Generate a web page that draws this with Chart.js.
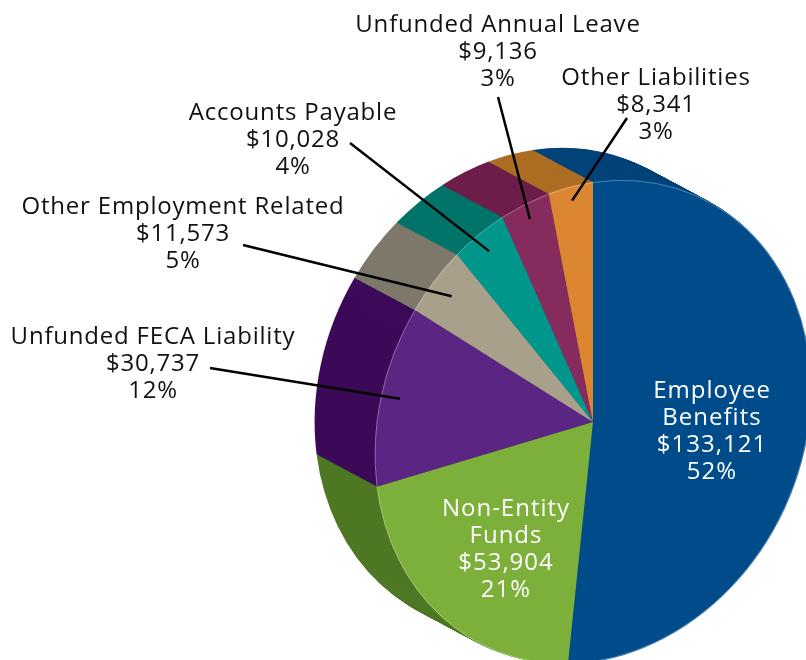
<!DOCTYPE html>
<html>
<head>
<meta charset="utf-8">
<script src="https://cdn.jsdelivr.net/npm/chart.js@4"></script>
<style>
  html, body { margin: 0; padding: 0; background: #fff; }
  #wrap { width: 806px; height: 660px; position: relative; }
</style>
</head>
<body>
<div id="wrap"><canvas id="liabilities"></canvas></div>
<script>
// data (thousands of dollars)
var categories = ['Employee Benefits', 'Non-Entity Funds', 'Unfunded FECA Liability',
    'Other Employment Related', 'Accounts Payable', 'Unfunded Annual Leave', 'Other Liabilities'];
var amounts = [133121, 53904, 30737, 11573, 10028, 9136, 8341];
var percents = [52, 21, 12, 5, 4, 3, 3];

var faceColors = ['#004c8a', '#7cb03a', '#5b2683', '#a8a08a', '#00968b', '#862b5e', '#db8731'];
var sideColors = ['#004479', '#4e7823', '#3c0a58', '#7e786a', '#007469', '#6d1e4a', '#ad6e24'];

// label layout: text lines, anchor (centre x, first baseline), leader start and depth into slice
var labelLines = [['Employee', 'Benefits'], ['Non-Entity', 'Funds'], ['Unfunded FECA Liability'],
    ['Other Employment Related'], ['Accounts Payable'], ['Unfunded Annual Leave'], ['Other Liabilities']];
var labelPos = [[712, 398], [506, 516], [153, 344], [183, 214], [293, 120], [498, 32], [656, 85]];
var leaderFrom = [null, null, [210, 368], [243, 245], [350, 143], [498, 97], [627, 118]];
var leaderDepth = [0, 0, 0.91, 0.89, 0.91, 0.93, 0.94];

// face of the pie is a tilted ellipse: x' = FA*x, y' = FB*x + y
var FA = 0.91, FB = -0.134;
var DX = -60, DY = -32; // depth of the extrusion
var FONT = '"Open Sans", sans-serif';

function money(v) {
    return '$' + v.toLocaleString('en-US');
}

function faceTransform(ctx, cx, cy) {
    ctx.translate(cx, cy);
    ctx.transform(FA, FB, 0, 1, 0, 0);
    ctx.translate(-cx, -cy);
}

var pie3d = {
    id: 'pie3d',
    beforeDatasetsDraw: function (chart) {
        var ctx = chart.ctx;
        var arcs = chart.getDatasetMeta(0).data;
        var cx = arcs[0].x, cy = arcs[0].y;
        var steps = 70;
        for (var i = steps; i >= 1; i--) {
            var t = i / steps;
            ctx.save();
            ctx.translate(DX * t, DY * t);
            faceTransform(ctx, cx, cy);
            arcs.forEach(function (arc, k) {
                var p = arc.getProps(['x', 'y', 'startAngle', 'endAngle', 'outerRadius'], true);
                ctx.beginPath();
                ctx.moveTo(p.x, p.y);
                ctx.arc(p.x, p.y, p.outerRadius, p.startAngle, p.endAngle);
                ctx.closePath();
                ctx.fillStyle = sideColors[k];
                ctx.fill();
            });
            ctx.restore();
        }
        ctx.save();
        faceTransform(ctx, cx, cy);
    },
    afterDatasetsDraw: function (chart) {
        var ctx = chart.ctx;
        var arcs = chart.getDatasetMeta(0).data;
        // faint rim where face meets side
        arcs.forEach(function (arc) {
            var p = arc.getProps(['x', 'y', 'startAngle', 'endAngle', 'outerRadius'], true);
            ctx.beginPath();
            ctx.arc(p.x, p.y, p.outerRadius - 0.5, p.startAngle, p.endAngle);
            ctx.strokeStyle = 'rgba(255,255,255,0.3)';
            ctx.lineWidth = 1;
            ctx.stroke();
        });
        ctx.restore();

        var cx = arcs[0].x, cy = arcs[0].y;
        ctx.save();
        ctx.textAlign = 'center';
        ctx.textBaseline = 'alphabetic';
        arcs.forEach(function (arc, k) {
            var lines = labelLines[k].concat([money(amounts[k]), percents[k] + '%']);
            var inside = leaderFrom[k] === null;
            ctx.fillStyle = inside ? '#ffffff' : '#111111';
            ctx.font = '24px ' + FONT;
            ctx.letterSpacing = inside ? '1px' : '0.8px';
            lines.forEach(function (s, j) {
                ctx.fillText(s, labelPos[k][0], labelPos[k][1] + j * 27);
            });
            if (!inside) {
                var p = arc.getProps(['startAngle', 'endAngle', 'outerRadius'], true);
                var a = (p.startAngle + p.endAngle) / 2;
                var r = p.outerRadius * leaderDepth[k];
                var lx = Math.cos(a) * r, ly = Math.sin(a) * r;
                var ex = cx + FA * lx, ey = cy + FB * lx + ly;
                ctx.beginPath();
                ctx.moveTo(leaderFrom[k][0], leaderFrom[k][1]);
                ctx.lineTo(ex, ey);
                ctx.strokeStyle = '#000000';
                ctx.lineWidth = 2.5;
                ctx.stroke();
            }
        });
        ctx.restore();
    }
};

new Chart(document.getElementById('liabilities').getContext('2d'), {
    type: 'pie',
    data: {
        labels: categories,
        datasets: [{
            data: amounts,
            backgroundColor: faceColors,
            borderWidth: 0
        }]
    },
    options: {
        responsive: true,
        maintainAspectRatio: false,
        animation: false,
        events: [],
        radius: 240,
        layout: { padding: { left: 380, right: 0, top: 184, bottom: 0 } },
        plugins: {
            legend: { display: false },
            tooltip: { enabled: false }
        }
    },
    plugins: [pie3d]
});
</script>
</body>
</html>
